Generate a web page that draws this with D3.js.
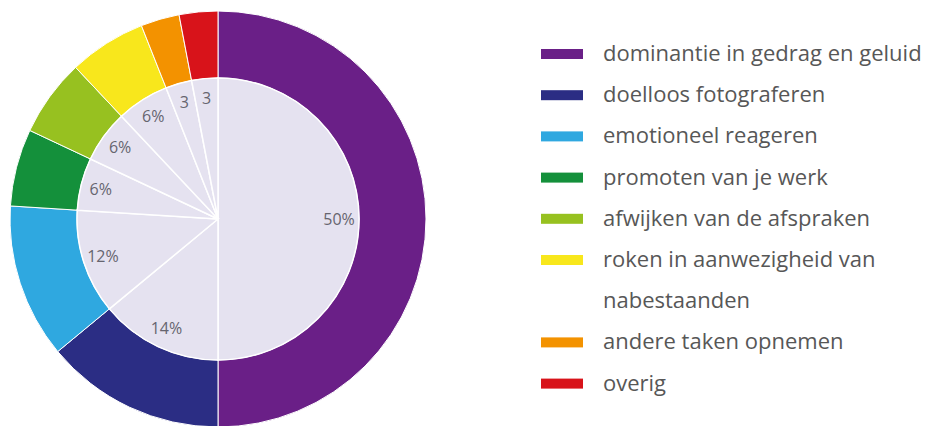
<!DOCTYPE html>
<html>
<head>
<meta charset="utf-8">
<script src="https://cdn.jsdelivr.net/npm/d3@7/dist/d3.min.js"></script>
<style>
  html, body { margin: 0; padding: 0; background: #ffffff; }
  svg { display: block; }
</style>
</head>
<body>
<svg id="chart" width="935" height="426"></svg>
<script>
// ---- data ----
const categories = [
  "dominantie in gedrag en geluid",
  "doelloos fotograferen",
  "emotioneel reageren",
  "promoten van je werk",
  "afwijken van de afspraken",
  "roken in aanwezigheid van\nnabestaanden",
  "andere taken opnemen",
  "overig"
];
const values = [50, 14, 12, 6, 6, 6, 3, 3];
const valueLabels = ["50%", "14%", "12%", "6%", "6%", "6%", "3", "3"];
const colors = ["#6a1f87", "#2b2d84", "#2fa8e0", "#14903b", "#97c120", "#f8e71c", "#f39200", "#d8131a"];

// ---- layout ----
const svg = d3.select("#chart");
const cx = 218, cy = 219;
const outerR = 208, innerR = 141, labelR = 121;

const pie = d3.pie().sort(null).value(d => d.value);
const arcsData = pie(values.map((v, i) => ({ value: v, i })));

const g = svg.append("g").attr("transform", `translate(${cx},${cy})`);

const ringArc = d3.arc().innerRadius(innerR).outerRadius(outerR);
const innerArc = d3.arc().innerRadius(0).outerRadius(innerR);
const labelArc = d3.arc().innerRadius(labelR).outerRadius(labelR);

g.selectAll("path.ring")
  .data(arcsData)
  .join("path")
  .attr("class", "ring")
  .attr("d", ringArc)
  .attr("fill", d => colors[d.data.i])
  .attr("stroke", "#ffffff")
  .attr("stroke-width", 1);

g.selectAll("path.inner")
  .data(arcsData)
  .join("path")
  .attr("class", "inner")
  .attr("d", innerArc)
  .attr("fill", "#e5e2f0")
  .attr("stroke", "#ffffff")
  .attr("stroke-width", 1.5);

g.selectAll("text.val")
  .data(arcsData)
  .join("text")
  .attr("class", "val")
  .attr("transform", d => {
    const [x, y] = labelArc.centroid(d);
    return `translate(${x},${y})`;
  })
  .attr("text-anchor", "middle")
  .attr("dy", "0.35em")
  .attr("font-family", "'Open Sans', 'DejaVu Sans', sans-serif")
  .attr("font-size", 16)
  .attr("fill", "#66656f")
  .text(d => valueLabels[d.data.i]);

// ---- legend ----
const legendX = 541, legendTop = 54, lineStep = 41.2;
const legend = svg.append("g");
let line = 0;
categories.forEach((cat, i) => {
  const lines = cat.split("\n");
  const yc = legendTop + line * lineStep;
  legend.append("rect")
    .attr("x", legendX).attr("y", yc - 5)
    .attr("width", 42).attr("height", 10)
    .attr("fill", colors[i]);
  const t = legend.append("text")
    .attr("x", legendX + 62)
    .attr("y", yc + 7)
    .attr("font-family", "'Open Sans', 'DejaVu Sans', sans-serif")
    .attr("font-size", 22)
    .attr("fill", "#575757");
  lines.forEach((ln, k) => {
    t.append("tspan")
      .attr("x", legendX + 62)
      .attr("y", yc + 7 + k * lineStep)
      .text(ln);
  });
  line += lines.length;
});
</script>
</body>
</html>
